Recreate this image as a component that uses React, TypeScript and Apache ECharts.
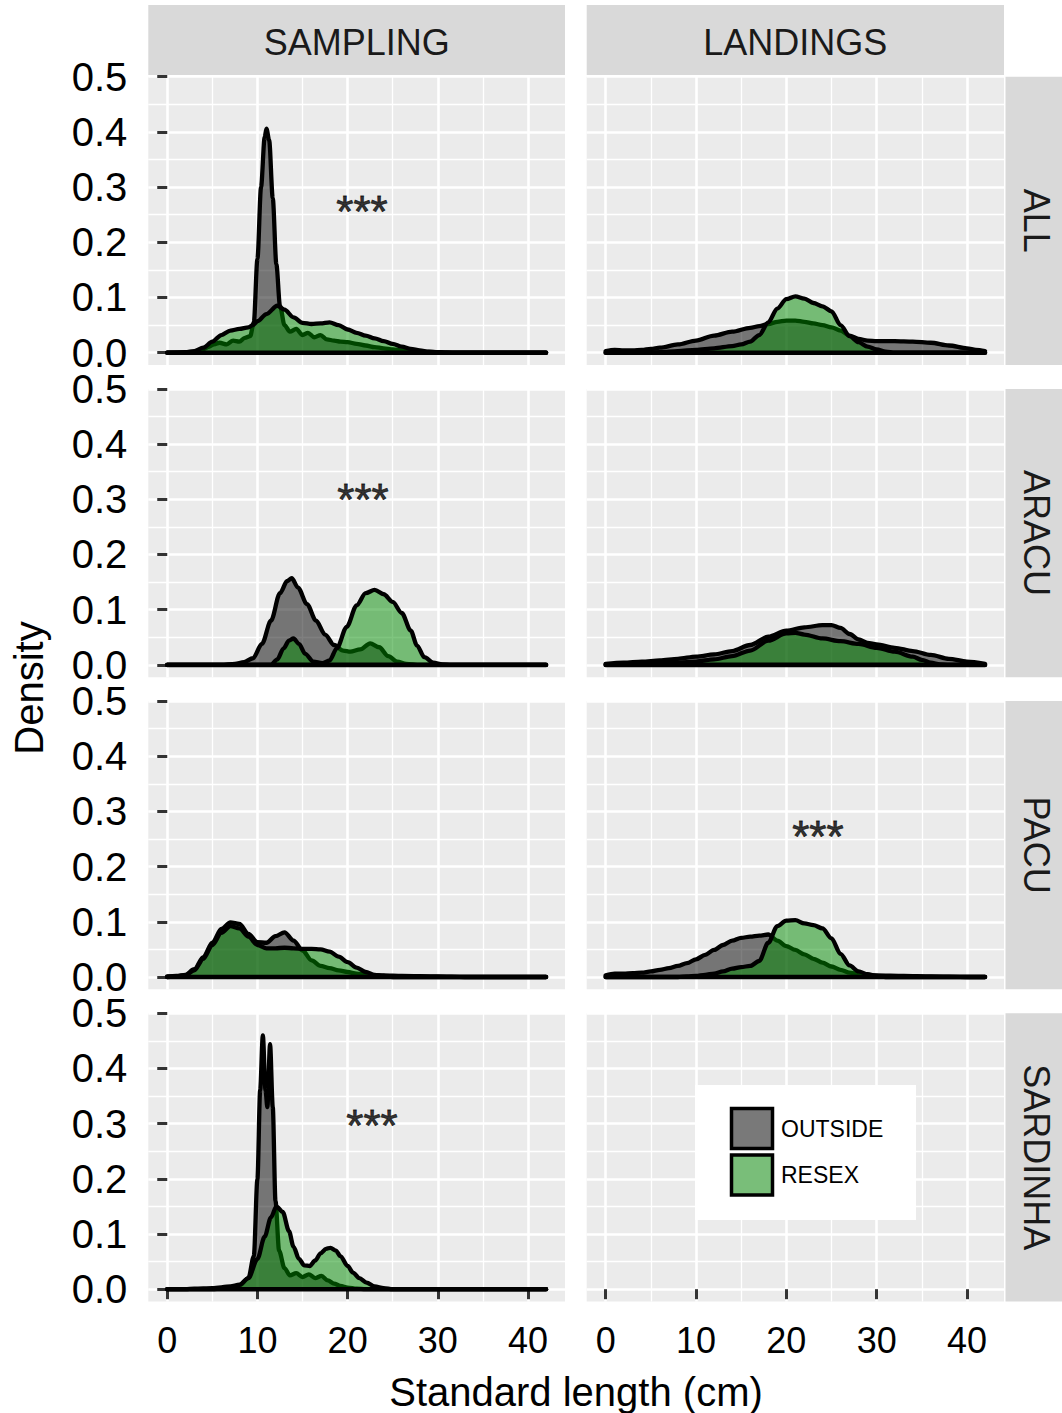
import React, { useEffect, useRef } from "react";
import * as echarts from "echarts";

type Pt = [number, number];

// ---------- labels ----------
const COL_LABELS = ["SAMPLING", "LANDINGS"];
const ROW_LABELS = ["ALL", "ARACU", "PACU", "SARDINHA"];
const GROUP_LABELS = ["OUTSIDE", "RESEX"];
const X_TITLE = "Standard length (cm)";
const Y_TITLE = "Density";
const X_TICKS = [0, 10, 20, 30, 40];
const X_MINOR = [5, 15, 25, 35];
const Y_TICKS = [0, 0.1, 0.2, 0.3, 0.4, 0.5];
const Y_MINOR = [0.05, 0.15, 0.25, 0.35, 0.45];
const DENSITY_RANGE: Pt = [0, 42];
const SIGNIF = "***";

// ---------- density curves (x = standard length, y = density) ----------
const ALL_SAMPLING_OUTSIDE: Pt[] = [
  [0, 0], [2, 0], [3, 0.002], [4, 0.006], [4.5, 0.01], [5.2, 0.015], [5.8, 0.018], [6.6, 0.015],
  [7.3, 0.022], [8, 0.02], [8.6, 0.027], [9.2, 0.03], [9.6, 0.055], [10, 0.17], [10.4, 0.3],
  [10.8, 0.39], [11.0, 0.406], [11.3, 0.385], [11.7, 0.28], [12.1, 0.16], [12.5, 0.085], [13, 0.05],
  [13.6, 0.038], [14.3, 0.043], [15, 0.032], [15.6, 0.036], [16.3, 0.028], [17, 0.032], [17.7, 0.024],
  [18.5, 0.022], [19.2, 0.02], [20, 0.019], [21, 0.016], [22, 0.013], [23, 0.01], [24, 0.008],
  [25, 0.006], [26, 0.004], [28, 0.002], [30, 0.001], [32, 0], [42, 0],
];
const ALL_SAMPLING_RESEX: Pt[] = [
  [0, 0], [2, 0.001], [3, 0.003], [4, 0.009], [5, 0.02], [6, 0.032], [7, 0.04], [8, 0.043],
  [9, 0.046], [9.5, 0.05], [10, 0.057], [11, 0.07], [12.2, 0.085], [13, 0.078], [14, 0.064],
  [15, 0.054], [16, 0.052], [17, 0.053], [18, 0.055], [19, 0.05], [20, 0.042], [21, 0.036],
  [22, 0.031], [23, 0.026], [24, 0.021], [25, 0.016], [26, 0.011], [27, 0.007], [28, 0.004],
  [29, 0.002], [30, 0.001], [31, 0], [42, 0],
];
const ALL_LANDINGS_OUTSIDE: Pt[] = [
  [0, 0.003], [1, 0.005], [2, 0.004], [3, 0.004], [4, 0.005], [5, 0.007], [6, 0.009], [8, 0.015],
  [10, 0.022], [12, 0.031], [14, 0.038], [16, 0.045], [17, 0.048], [18, 0.052], [19, 0.056],
  [20, 0.058], [21, 0.058], [22, 0.056], [23, 0.053], [24, 0.05], [25, 0.046], [26, 0.04],
  [27, 0.031], [28, 0.025], [29, 0.022], [30, 0.021], [32, 0.021], [34, 0.02], [36, 0.018],
  [38, 0.013], [40, 0.008], [41, 0.005], [42, 0.003],
];
const ALL_LANDINGS_RESEX: Pt[] = [
  [0, 0], [4, 0], [6, 0.001], [8, 0.003], [10, 0.005], [12, 0.008], [14, 0.012], [15, 0.015],
  [16, 0.02], [17, 0.032], [18, 0.055], [19, 0.08], [20, 0.097], [21, 0.102], [22, 0.098],
  [23, 0.09], [24, 0.084], [25, 0.075], [26, 0.05], [27, 0.03], [28, 0.019], [29, 0.011],
  [30, 0.006], [31, 0.002], [32, 0], [42, 0],
];
const ARACU_SAMPLING_OUTSIDE: Pt[] = [
  [0, 0], [6, 0], [7.5, 0.002], [8.5, 0.005], [9.5, 0.012], [10.5, 0.038], [11.5, 0.08],
  [12.5, 0.13], [13.3, 0.152], [13.8, 0.157], [14.5, 0.14], [15.5, 0.11], [16.5, 0.08],
  [17.5, 0.055], [18.5, 0.036], [19.5, 0.026], [20.3, 0.024], [21.4, 0.028], [22.5, 0.039],
  [23.5, 0.032], [24.5, 0.016], [25.5, 0.006], [26.5, 0.002], [28, 0], [42, 0],
];
const ARACU_SAMPLING_RESEX: Pt[] = [
  [0, 0], [11.5, 0], [12.2, 0.01], [12.9, 0.03], [13.5, 0.044], [14, 0.048], [14.6, 0.038],
  [15.3, 0.02], [16.2, 0.006], [17.2, 0.003], [18, 0.008], [18.8, 0.03], [19.9, 0.069],
  [21, 0.108], [22, 0.13], [23, 0.136], [24, 0.128], [25, 0.114], [26, 0.094], [27, 0.062],
  [27.7, 0.035], [28.5, 0.014], [29.5, 0.004], [30.5, 0.001], [31.5, 0], [42, 0],
];
const ARACU_LANDINGS_OUTSIDE: Pt[] = [
  [0, 0.002], [2, 0.004], [4, 0.006], [6, 0.008], [8, 0.011], [10, 0.015], [12, 0.019],
  [14, 0.025], [16, 0.036], [18, 0.051], [20, 0.062], [22, 0.068], [24, 0.072], [25, 0.072],
  [26, 0.067], [27, 0.056], [28, 0.046], [29, 0.04], [30, 0.037], [32, 0.031], [34, 0.025],
  [36, 0.018], [38, 0.011], [40, 0.006], [42, 0.002],
];
const ARACU_LANDINGS_RESEX: Pt[] = [
  [0, 0], [4, 0.001], [7, 0.003], [10, 0.006], [12, 0.01], [14, 0.016], [16, 0.026], [18, 0.044],
  [20, 0.057], [21, 0.058], [22, 0.055], [24, 0.048], [26, 0.043], [28, 0.038], [30, 0.031],
  [32, 0.024], [34, 0.015], [35, 0.009], [36, 0.004], [37, 0.001], [38, 0], [42, 0],
];
const PACU_SAMPLING_OUTSIDE: Pt[] = [
  [0, 0.001], [1, 0.002], [2, 0.004], [3, 0.014], [4, 0.036], [5, 0.062], [6, 0.087], [7, 0.099],
  [8, 0.096], [9, 0.078], [10, 0.063], [11, 0.062], [12, 0.074], [13, 0.081], [14, 0.066],
  [15, 0.048], [16, 0.03], [17, 0.02], [18, 0.016], [19, 0.012], [20, 0.009], [21, 0.006],
  [22, 0.004], [24, 0.003], [26, 0.002], [30, 0.001], [33, 0], [42, 0],
];
const PACU_SAMPLING_RESEX: Pt[] = [
  [0, 0], [1, 0.001], [2, 0.003], [3, 0.012], [4, 0.033], [5, 0.058], [6, 0.08], [7, 0.092],
  [8, 0.088], [9, 0.073], [10, 0.058], [11, 0.052], [12, 0.052], [13, 0.053], [14, 0.052],
  [15, 0.051], [16, 0.051], [17, 0.05], [18, 0.046], [19, 0.037], [20, 0.027], [21, 0.017],
  [22, 0.009], [23, 0.004], [24, 0.002], [25, 0], [42, 0],
];
const PACU_LANDINGS_OUTSIDE: Pt[] = [
  [0, 0.003], [1, 0.006], [2, 0.006], [3, 0.007], [4, 0.008], [5, 0.01], [6, 0.013], [7, 0.016],
  [8, 0.02], [9, 0.025], [10, 0.032], [11, 0.04], [12, 0.049], [13, 0.058], [14, 0.066],
  [15, 0.071], [16, 0.073], [17, 0.075], [18, 0.077], [19, 0.066], [20, 0.056], [21, 0.049],
  [22, 0.041], [23, 0.033], [24, 0.026], [25, 0.019], [26, 0.013], [27, 0.008], [28, 0.005],
  [30, 0.003], [33, 0.002], [36, 0.001], [40, 0], [42, 0],
];
const PACU_LANDINGS_RESEX: Pt[] = [
  [0, 0], [8, 0], [9, 0.001], [10, 0.002], [11, 0.004], [12, 0.006], [13, 0.01], [14, 0.015],
  [15, 0.018], [16, 0.02], [17, 0.029], [18, 0.062], [19, 0.092], [20, 0.102], [21, 0.103],
  [22, 0.097], [23, 0.094], [24, 0.088], [25, 0.07], [26, 0.042], [27, 0.021], [28, 0.01],
  [29, 0.005], [30, 0.002], [31, 0], [42, 0],
];
const SARDINHA_SAMPLING_OUTSIDE: Pt[] = [
  [0, 0], [5, 0], [6, 0.001], [7, 0.003], [8, 0.007], [9, 0.02], [9.6, 0.06], [10.0, 0.2],
  [10.3, 0.36], [10.6, 0.46], [10.9, 0.36], [11.1, 0.33], [11.4, 0.444], [11.7, 0.33],
  [12.0, 0.16], [12.4, 0.07], [13, 0.038], [13.6, 0.025], [14.3, 0.029], [15, 0.022],
  [15.7, 0.027], [16.4, 0.02], [17.1, 0.024], [17.8, 0.016], [18.5, 0.01], [19.2, 0.006],
  [20, 0.003], [21, 0.001], [22, 0], [42, 0],
];
const SARDINHA_SAMPLING_RESEX: Pt[] = [
  [0, 0], [2, 0], [3, 0.001], [5, 0.002], [7, 0.005], [8, 0.008], [9, 0.02], [10, 0.055],
  [10.8, 0.095], [11.5, 0.13], [12.1, 0.15], [12.8, 0.14], [13.5, 0.105], [14, 0.077],
  [14.6, 0.055], [15.2, 0.043], [15.8, 0.042], [16.4, 0.052], [17, 0.065], [17.6, 0.073],
  [18.1, 0.075], [18.7, 0.07], [19.2, 0.06], [20, 0.042], [20.6, 0.03], [21.3, 0.02],
  [22.1, 0.012], [23, 0.005], [24, 0.002], [25, 0], [42, 0],
];

// [row, col, outside, resex]  (SARDINHA / LANDINGS has no data)
const PANEL_DATA: [number, number, Pt[], Pt[]][] = [
  [0, 0, ALL_SAMPLING_OUTSIDE, ALL_SAMPLING_RESEX],
  [0, 1, ALL_LANDINGS_OUTSIDE, ALL_LANDINGS_RESEX],
  [1, 0, ARACU_SAMPLING_OUTSIDE, ARACU_SAMPLING_RESEX],
  [1, 1, ARACU_LANDINGS_OUTSIDE, ARACU_LANDINGS_RESEX],
  [2, 0, PACU_SAMPLING_OUTSIDE, PACU_SAMPLING_RESEX],
  [2, 1, PACU_LANDINGS_OUTSIDE, PACU_LANDINGS_RESEX],
  [3, 0, SARDINHA_SAMPLING_OUTSIDE, SARDINHA_SAMPLING_RESEX],
];

// significance labels: [row, col, x, y]
const STAR_LABELS: [number, number, number, number][] = [
  [0, 0, 21.6, 0.267],
  [1, 0, 21.7, 0.31],
  [2, 1, 23.5, 0.266],
  [3, 0, 22.7, 0.307],
];

// ---------- layout / style ----------
const FONT = "'Liberation Sans', Arial, Helvetica, sans-serif";
const X_MIN = -2.1;
const X_MAX = 44.1;
const Y_MIN = -0.0223;
const Y_MAX = 0.5;
const COL_LEFT = [148.3, 586.7];
const COL_W = [416.7, 417.3];
const ROW_TOP = [76.7, 388.9, 701.0, 1013.2];
const PANEL_H = 288.3;
const PANEL_BG = "#EBEBEB";
const STRIP_BG = "#D9D9D9";
const FILL_OUT = "#000000";
const FILL_RES = "#008B00";
const KEY_OUT = "#797979";
const KEY_RES = "#79BE79";
const LINE_W = 4.3;

function buildOption(): echarts.EChartsOption {
  const grid: any[] = [];
  const xAxis: any[] = [];
  const yAxis: any[] = [];
  const series: any[] = [];
  const graphic: any[] = [];

  for (let r = 0; r < ROW_LABELS.length; r++) {
    for (let c = 0; c < COL_LABELS.length; c++) {
      const gi = r * 2 + c;
      const isBottom = r === ROW_LABELS.length - 1;
      const isLeft = c === 0;
      grid.push({
        left: COL_LEFT[c],
        top: ROW_TOP[r],
        width: COL_W[c],
        height: PANEL_H,
        show: true,
        backgroundColor: PANEL_BG,
        borderWidth: 0,
      });
      // major x
      xAxis.push({
        type: "value",
        gridIndex: gi,
        min: X_MIN,
        max: X_MAX,
        position: "bottom",
        axisLine: { show: false },
        axisTick: {
          show: isBottom,
          customValues: X_TICKS,
          length: 10,
          lineStyle: { color: "#333333", width: 3 },
        },
        axisLabel: {
          show: isBottom,
          customValues: X_TICKS,
          margin: 21,
          fontSize: 36,
          lineHeight: 36,
          color: "#000000",
          fontFamily: FONT,
          formatter: (v: number) => String(v),
        },
        splitLine: { show: true, lineStyle: { color: "#FFFFFF", width: 2.6 } },
      });
      // minor x
      xAxis.push({
        type: "value",
        gridIndex: gi,
        min: X_MIN,
        max: X_MAX,
        position: "bottom",
        axisLine: { show: false },
        axisTick: { show: false, customValues: X_MINOR },
        axisLabel: { show: false, customValues: X_MINOR },
        splitLine: { show: true, lineStyle: { color: "#FFFFFF", width: 1.3 } },
      });
      // major y
      yAxis.push({
        type: "value",
        gridIndex: gi,
        min: Y_MIN,
        max: Y_MAX,
        position: "left",
        axisLine: { show: false },
        axisTick: {
          show: isLeft,
          customValues: Y_TICKS,
          length: 10,
          lineStyle: { color: "#333333", width: 3 },
        },
        axisLabel: {
          show: isLeft,
          customValues: Y_TICKS,
          margin: 21,
          fontSize: 40,
          lineHeight: 30,
          color: "#000000",
          fontFamily: FONT,
          formatter: (v: number) => v.toFixed(1),
        },
        splitLine: { show: true, lineStyle: { color: "#FFFFFF", width: 2.6 } },
      });
      // minor y
      yAxis.push({
        type: "value",
        gridIndex: gi,
        min: Y_MIN,
        max: Y_MAX,
        position: "left",
        axisLine: { show: false },
        axisTick: { show: false, customValues: Y_MINOR },
        axisLabel: { show: false, customValues: Y_MINOR },
        splitLine: { show: true, lineStyle: { color: "#FFFFFF", width: 1.3 } },
      });
    }
  }

  PANEL_DATA.forEach(([r, c, outside, resex]) => {
    const gi = r * 2 + c;
    const ax = { xAxisIndex: gi * 2, yAxisIndex: gi * 2 };
    const common = {
      type: "line",
      ...ax,
      showSymbol: false,
      symbol: "none",
      smooth: 0.3,
      smoothMonotone: "x",
      silent: true,
      clip: true,
    };
    series.push({
      ...common,
      name: GROUP_LABELS[0],
      data: outside,
      z: 2,
      lineStyle: { color: "#000000", width: LINE_W, cap: "round", join: "round" },
      areaStyle: { color: FILL_OUT, opacity: 0.5 },
    });
    series.push({
      ...common,
      name: GROUP_LABELS[1],
      data: resex,
      z: 3,
      lineStyle: { color: "#000000", width: LINE_W, cap: "round", join: "round" },
      areaStyle: { color: FILL_RES, opacity: 0.5 },
    });
    series.push({
      type: "line",
      ...ax,
      showSymbol: false,
      symbol: "none",
      silent: true,
      z: 4,
      data: [
        [DENSITY_RANGE[0], 0],
        [DENSITY_RANGE[1], 0],
      ],
      lineStyle: { color: "#000000", width: 4.6, cap: "round" },
    });
  });

  STAR_LABELS.forEach(([r, c, x, y]) => {
    const gi = r * 2 + c;
    series.push({
      type: "scatter",
      xAxisIndex: gi * 2,
      yAxisIndex: gi * 2,
      data: [[x, y]],
      symbolSize: 1,
      itemStyle: { color: "rgba(0,0,0,0)" },
      silent: true,
      z: 5,
      label: {
        show: true,
        position: "inside",
        formatter: SIGNIF,
        fontSize: 44,
        lineHeight: 30,
        color: "#000000",
        textBorderColor: "#000000",
        textBorderWidth: 0.8,
        fontFamily: FONT,
        offset: [0, 6],
      },
    });
  });

  // column strips
  COL_LABELS.forEach((lab, c) => {
    graphic.push({
      type: "rect",
      z: 100,
      shape: { x: COL_LEFT[c], y: 5, width: COL_W[c], height: 70 },
      style: { fill: STRIP_BG },
    });
    graphic.push({
      type: "text",
      z: 101,
      x: COL_LEFT[c] + COL_W[c] / 2,
      y: 42,
      style: {
        text: lab,
        fill: "#1A1A1A",
        font: `36px ${FONT}`,
        align: "center",
        verticalAlign: "middle",
      },
    });
  });
  // row strips
  ROW_LABELS.forEach((lab, r) => {
    graphic.push({
      type: "rect",
      z: 100,
      shape: { x: 1005.5, y: ROW_TOP[r], width: 70, height: PANEL_H },
      style: { fill: STRIP_BG },
    });
    graphic.push({
      type: "text",
      z: 101,
      x: 1036.5,
      y: ROW_TOP[r] + PANEL_H / 2,
      rotation: -Math.PI / 2,
      style: {
        text: lab,
        fill: "#1A1A1A",
        font: `36px ${FONT}`,
        align: "center",
        verticalAlign: "middle",
      },
    });
  });
  // axis titles
  graphic.push({
    type: "text",
    z: 101,
    x: 576,
    y: 1392,
    style: {
      text: X_TITLE,
      fill: "#000000",
      font: `40px ${FONT}`,
      lineHeight: 36,
      align: "center",
      verticalAlign: "middle",
    },
  });
  graphic.push({
    type: "text",
    z: 101,
    x: 29,
    y: 688,
    rotation: Math.PI / 2,
    style: {
      text: Y_TITLE,
      fill: "#000000",
      font: `40px ${FONT}`,
      align: "center",
      verticalAlign: "middle",
    },
  });
  // legend
  graphic.push({
    type: "rect",
    z: 100,
    shape: { x: 695, y: 1085, width: 221, height: 135 },
    style: { fill: "#FFFFFF" },
  });
  const keyFills = [KEY_OUT, KEY_RES];
  GROUP_LABELS.forEach((lab, i) => {
    const ky = 1108.5 + i * 46.5;
    graphic.push({
      type: "rect",
      z: 101,
      shape: { x: 731.5, y: ky, width: 41, height: 40 },
      style: { fill: keyFills[i], stroke: "#000000", lineWidth: 3.5 },
    });
    graphic.push({
      type: "text",
      z: 101,
      x: 781,
      y: ky + 20,
      style: {
        text: lab,
        fill: "#000000",
        font: `23px ${FONT}`,
        align: "left",
        verticalAlign: "middle",
      },
    });
  });

  return {
    animation: false,
    backgroundColor: "#FFFFFF",
    textStyle: { fontFamily: FONT },
    grid,
    xAxis,
    yAxis,
    series,
    graphic,
  } as any;
}

export default function App() {
  const ref = useRef<HTMLDivElement>(null);
  useEffect(() => {
    if (!ref.current) return;
    const chart = echarts.init(ref.current, undefined, { renderer: "svg" });
    chart.setOption(buildOption());
    return () => chart.dispose();
  }, []);
  return (
    <div
      ref={ref}
      style={{ position: "fixed", left: 0, top: 0, width: 1062, height: 1413, background: "#fff" }}
    />
  );
}
